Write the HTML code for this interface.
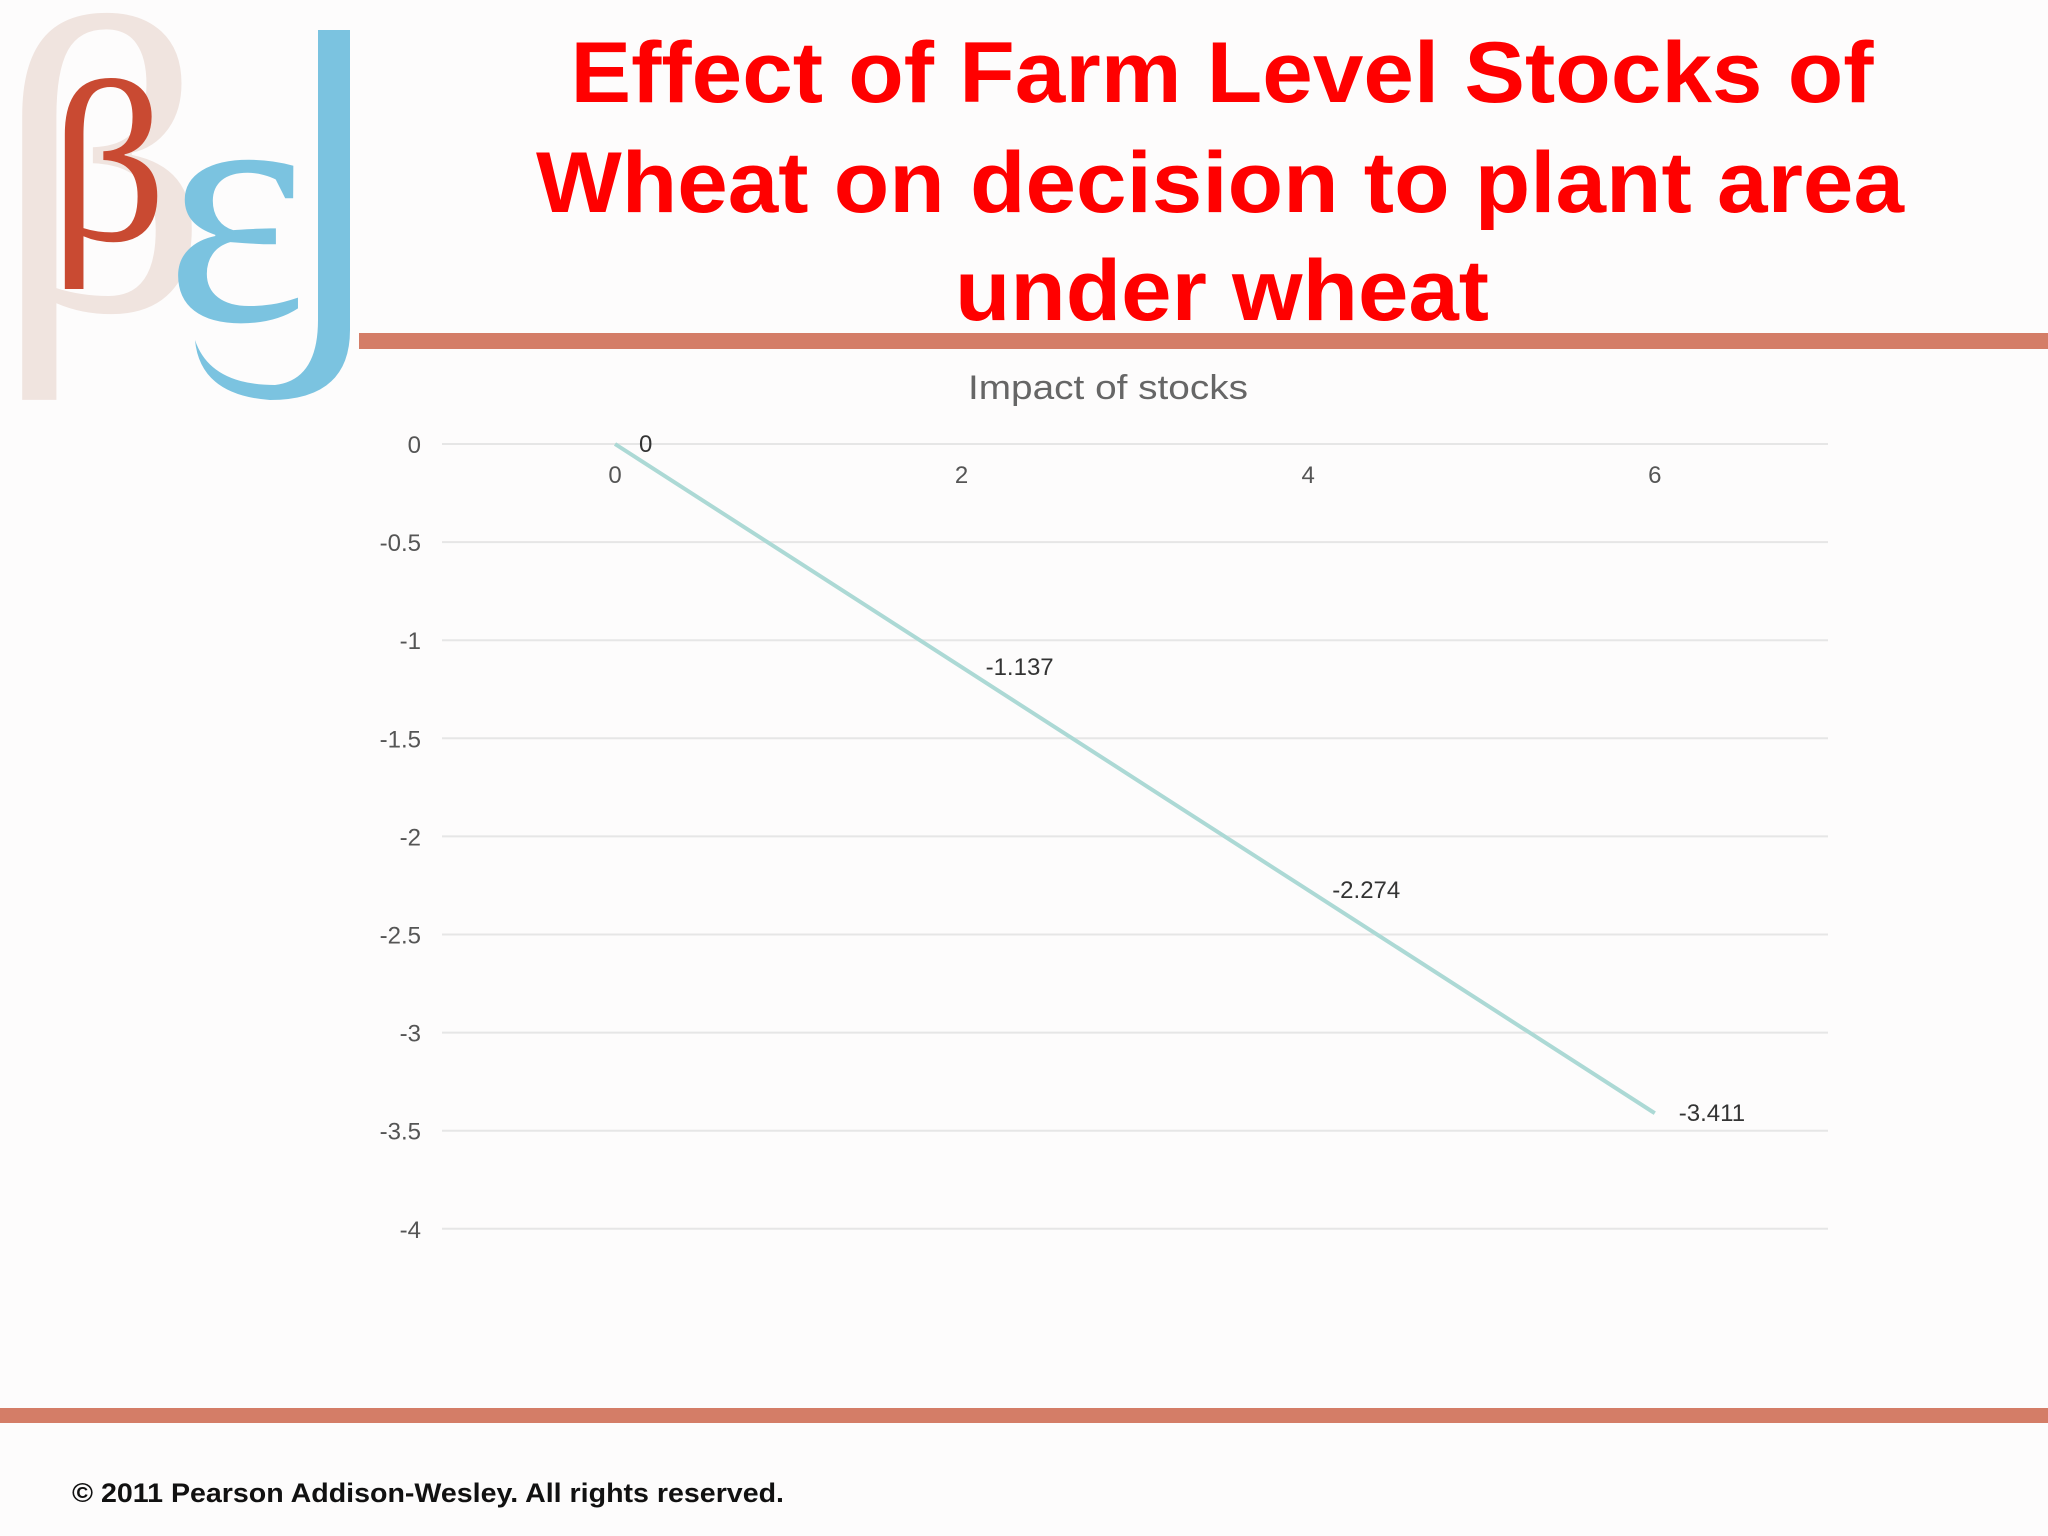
<!DOCTYPE html>
<html><head><meta charset="utf-8"><style>
html,body{margin:0;padding:0;background:#fdfcfc;}
svg{display:block;}
</style></head><body>
<svg id="slide" width="2048" height="1536" viewBox="0 0 2048 1536" xmlns="http://www.w3.org/2000/svg">
<rect width="2048" height="1536" fill="#fdfcfc"/>
<g>
  <text x="-5" y="310" font-family="Liberation Serif, serif" font-size="422" fill="#f0e4df">β</text>
  <text x="50" y="240" font-family="Liberation Serif, serif" font-size="230" fill="#c94a32">β</text>
  <text x="165" y="320" font-family="Liberation Serif, serif" font-size="340" fill="#7bc3e0">ɛ</text>
  <path d="M318 30 L350 30 L350 330 Q350 400 270 400 Q200 395 195 340 Q210 385 275 385 Q318 380 318 320 Z" fill="#7bc3e0"/>
</g>
<g font-family="Liberation Sans, sans-serif" font-weight="bold" font-size="86" fill="#ff0000" text-anchor="middle">
  <text x="1222" y="102" textLength="1303" lengthAdjust="spacingAndGlyphs">Effect of Farm Level Stocks of</text>
  <text x="1220" y="212" textLength="1368" lengthAdjust="spacingAndGlyphs">Wheat on decision to plant area</text>
  <text x="1222" y="320" textLength="534" lengthAdjust="spacingAndGlyphs">under wheat</text>
</g>
<rect x="359" y="333" width="1689" height="16" fill="#d47d67"/>
<rect x="0" y="1408" width="2048" height="15" fill="#d47d67"/>
<text x="72" y="1502" font-family="Liberation Sans, sans-serif" font-weight="bold" font-size="27" fill="#111" textLength="712" lengthAdjust="spacingAndGlyphs">© 2011 Pearson Addison-Wesley. All rights reserved.</text>
<text x="1108" y="399" text-anchor="middle" font-family="Liberation Sans, sans-serif" font-size="34" fill="#666" textLength="280" lengthAdjust="spacingAndGlyphs">Impact of stocks</text>
<g id="grid"></g>
<g id="marks"></g>
</svg>
<script>
const xValues = [0, 2, 4, 6];
const yValues = [0, -1.137, -2.274, -3.411];
const pointLabels = ["0", "-1.137", "-2.274", "-3.411"];
const yTicks = [0, -0.5, -1, -1.5, -2, -2.5, -3, -3.5, -4];
const yTickLabels = ["0", "-0.5", "-1", "-1.5", "-2", "-2.5", "-3", "-3.5", "-4"];
const xTicks = [0, 2, 4, 6];
const xTickLabels = ["0", "2", "4", "6"];

const NS = "http://www.w3.org/2000/svg";
const X = v => 615 + v * 173.3;
const Y = v => 444 - v * 196.2;
const grid = document.getElementById('grid');
const marks = document.getElementById('marks');
function mk(tag, attrs, parent, text){
  const e = document.createElementNS(NS, tag);
  for (const k in attrs) e.setAttribute(k, attrs[k]);
  if (text !== undefined) e.textContent = text;
  parent.appendChild(e);
  return e;
}
yTicks.forEach((t, i) => {
  const l = mk('line', {x1: 442, x2: 1828, y1: Y(t), y2: Y(t), stroke: '#e6e6e6', 'stroke-width': 2}, grid);
  
  
  const tx = mk('text', {x: 421, y: Y(t) + 9, 'text-anchor': 'end', 'font-family': 'Liberation Sans, sans-serif', 'font-size': 24, fill: '#555'}, grid, yTickLabels[i]);
  
  
});
xTicks.forEach((t, i) => {
  const tx = mk('text', {x: X(t), y: 483, 'text-anchor': 'middle', 'font-family': 'Liberation Sans, sans-serif', 'font-size': 24, fill: '#555'}, grid, xTickLabels[i]);
  
  
});
const pts = xValues.map((x, i) => X(x) + ',' + Y(yValues[i])).join(' ');
const pl = mk('polyline', {points: pts, fill: 'none', stroke: '#acd9d5', 'stroke-width': 4}, marks);


xValues.forEach((x, i) => {
  const tx = mk('text', {x: X(x) + 24, y: Y(yValues[i]) + 8, 'font-family': 'Liberation Sans, sans-serif', 'font-size': 24, fill: '#333'}, marks, pointLabels[i]);
  
  
});
</script>
</body></html>
